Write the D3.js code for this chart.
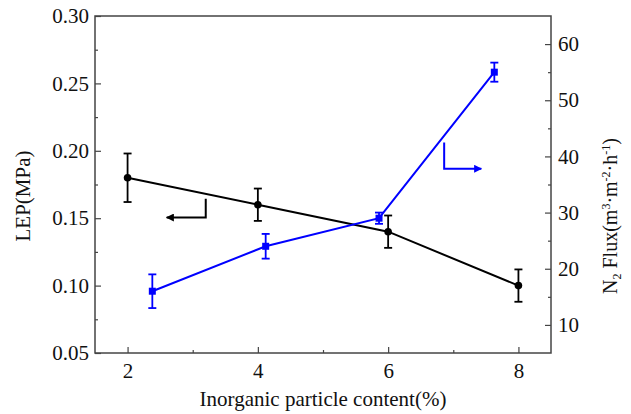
<!DOCTYPE html>
<html><head><meta charset="utf-8">
<script src="https://cdn.jsdelivr.net/npm/d3@7"></script>
<style>
body{margin:0;background:#fff;}
text{font-family:"Liberation Serif","Times New Roman",serif;fill:#111;}
</style></head>
<body><svg id="c" width="631" height="414"></svg>
<script>
// Data
const lepX = [2, 4, 6, 8];
const lepY = [0.18, 0.16, 0.14, 0.10];
const lepErr = [0.018, 0.012, 0.012, 0.012];
const fluxX = [2.38, 4.12, 5.86, 7.63];
const fluxY = [16.0, 24.0, 29.0, 55.0];
const fluxErr = [3.0, 2.2, 1.0, 1.7];
const xTicks = [2, 4, 6, 8];
const leftTicks = [0.05, 0.10, 0.15, 0.20, 0.25, 0.30];
const rightTicks = [10, 20, 30, 40, 50, 60];

const svg = d3.select("#c");
const L = 95, R = 551, T = 16, B = 353;
const FS = "21px";
const x = d3.scaleLinear().domain([1.5, 8.5]).range([L, R]);
const yL = d3.scaleLinear().domain([0.05, 0.30]).range([B, T]);
const yR = d3.scaleLinear().domain([5, 65]).range([B, T]);
const axisColor = "#444";

// frame
svg.append("rect").attr("x", L).attr("y", T).attr("width", R - L).attr("height", B - T)
  .attr("fill", "none").attr("stroke", axisColor).attr("stroke-width", 1.5);

function styleAxis(g) {
  g.select(".domain").remove();
  g.selectAll("line").attr("stroke", axisColor).attr("stroke-width", 1.2);
  g.selectAll("text").style("font-size", FS).attr("fill", "#111");
}

// x axis
const gx = svg.append("g").attr("transform", `translate(0,${B})`)
  .call(d3.axisBottom(x).tickValues(xTicks).tickFormat(d3.format("d")).tickSize(-6).tickPadding(10));
styleAxis(gx);
svg.append("g").attr("transform", `translate(0,${B})`)
  .call(d3.axisBottom(x).tickValues([3, 5, 7]).tickFormat("").tickSize(-3)).call(styleAxis);

// left axis
const gl = svg.append("g").attr("transform", `translate(${L},0)`)
  .call(d3.axisLeft(yL).tickValues(leftTicks).tickFormat(d3.format(".2f")).tickSize(-6).tickPadding(6));
styleAxis(gl);
svg.append("g").attr("transform", `translate(${L},0)`)
  .call(d3.axisLeft(yL).tickValues([0.075, 0.125, 0.175, 0.225, 0.275]).tickFormat("").tickSize(-3)).call(styleAxis);

// right axis
const gr = svg.append("g").attr("transform", `translate(${R},0)`)
  .call(d3.axisRight(yR).tickValues(rightTicks).tickFormat(d3.format("d")).tickSize(-6).tickPadding(7));
styleAxis(gr);
svg.append("g").attr("transform", `translate(${R},0)`)
  .call(d3.axisRight(yR).tickValues([15, 25, 35, 45, 55]).tickFormat("").tickSize(-3)).call(styleAxis);

// titles
svg.append("text").attr("x", 323).attr("y", 406).attr("text-anchor", "middle")
  .style("font-size", FS).text("Inorganic particle content(%)");
svg.append("text").attr("transform", `translate(30,196) rotate(-90)`)
  .attr("text-anchor", "middle").style("font-size", FS).text("LEP(MPa)");
const rt = svg.append("text").attr("transform", `translate(617,216) rotate(-90)`)
  .attr("text-anchor", "middle").style("font-size", "20px");
rt.append("tspan").text("N");
rt.append("tspan").attr("baseline-shift", "-30%").style("font-size", "12px").text("2");
rt.append("tspan").text(" Flux(m");
rt.append("tspan").attr("baseline-shift", "super").style("font-size", "12px").text("3");
rt.append("tspan").text("·m");
rt.append("tspan").attr("baseline-shift", "super").style("font-size", "12px").text("-2");
rt.append("tspan").text("·h");
rt.append("tspan").attr("baseline-shift", "super").style("font-size", "12px").text("-1");
rt.append("tspan").text(")");

function series(xs, ys, es, yScale, color, shape) {
  const g = svg.append("g");
  const line = d3.line().x((d, i) => x(xs[i])).y(d => yScale(d));
  g.append("path").datum(ys).attr("d", line).attr("fill", "none")
    .attr("stroke", color).attr("stroke-width", 2);
  ys.forEach((v, i) => {
    const cx = x(xs[i]), y1 = yScale(v + es[i]), y2 = yScale(v - es[i]);
    g.append("line").attr("x1", cx).attr("x2", cx).attr("y1", y1).attr("y2", y2)
      .attr("stroke", color).attr("stroke-width", 1.8);
    [y1, y2].forEach(yy => g.append("line").attr("x1", cx - 4).attr("x2", cx + 4)
      .attr("y1", yy).attr("y2", yy).attr("stroke", color).attr("stroke-width", 1.8));
    if (shape === "circle") {
      g.append("circle").attr("cx", cx).attr("cy", yScale(v)).attr("r", 3.8).attr("fill", color);
    } else {
      g.append("rect").attr("x", cx - 3.5).attr("y", yScale(v) - 3.5).attr("width", 7).attr("height", 7).attr("fill", color);
    }
  });
}
series(lepX, lepY, lepErr, yL, "#000", "circle");
series(fluxX, fluxY, fluxErr, yR, "#0000ff", "square");

// annotation arrows
const defs = svg.append("defs");
["#000", "#0000ff"].forEach((c, i) => {
  defs.append("marker").attr("id", "ah" + i).attr("viewBox", "0 0 10 10").attr("refX", 9).attr("refY", 5)
    .attr("markerWidth", 5).attr("markerHeight", 4).attr("orient", "auto").attr("markerUnits", "strokeWidth")
    .append("path").attr("d", "M0,0L10,5L0,10Z").attr("fill", c);
});
const blkArrow = [[3.2, 0.1645], [3.2, 0.1505], [2.6, 0.1505]];
svg.append("path").attr("d", d3.line()(blkArrow.map(p => [x(p[0]), yL(p[1])])))
  .attr("fill", "none").attr("stroke", "#000").attr("stroke-width", 2).attr("marker-end", "url(#ah0)");
const bluArrow = [[6.86, 42.5], [6.86, 37.8], [7.43, 37.8]];
svg.append("path").attr("d", d3.line()(bluArrow.map(p => [x(p[0]), yR(p[1])])))
  .attr("fill", "none").attr("stroke", "#0000ff").attr("stroke-width", 2).attr("marker-end", "url(#ah1)");
</script></body></html>
